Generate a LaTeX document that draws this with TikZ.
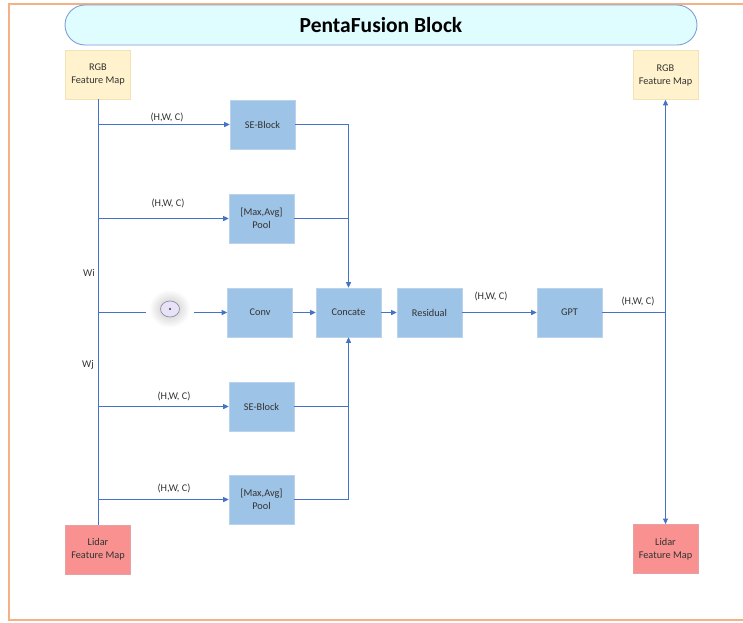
\documentclass[tikz,border=0pt]{standalone}
\usepackage{fontspec}
\setmainfont{Carlito}
\usetikzlibrary{arrows.meta,shapes.geometric}

\definecolor{boxblue}{HTML}{9DC3E6}
\definecolor{boxblueedge}{HTML}{B9D3EC}
\definecolor{linkblue}{HTML}{4472C4}
\definecolor{rgbfill}{HTML}{FFF2CC}
\definecolor{rgbedge}{HTML}{F1E2B8}
\definecolor{lidarfill}{HTML}{F8918F}
\definecolor{lidaredge}{HTML}{E3A3A6}
\definecolor{titlefill}{HTML}{DFFCFE}
\definecolor{titleedge}{HTML}{7F9ED6}
\definecolor{framecol}{HTML}{F4B183}
\definecolor{opfill}{HTML}{E8E2F8}
\definecolor{opedge}{HTML}{8E8E9E}

\tikzset{
  x=1pt, y=-1pt,
  every node/.style={font=\fontsize{10.3}{13}\selectfont, text=black!80},
  block/.style={rectangle, minimum width=65pt, minimum height=49pt, inner sep=0pt,
                align=center},
  bluebox/.style={block, fill=boxblue, draw=boxblueedge, line width=0.6pt},
  rgbbox/.style={block, fill=rgbfill, draw=rgbedge, line width=0.6pt},
  lidarbox/.style={block, fill=lidarfill, draw=lidaredge, line width=0.8pt},
  conn/.style={draw=linkblue, line width=0.9pt},
  arr/.style={conn, -{Triangle[length=5.5pt,width=5pt]}},
  dimlabel/.style={inner sep=0pt},
}

\begin{document}
\begin{tikzpicture}
\useasboundingbox (0,0) rectangle (743,622);
\fill[white] (0,0) rectangle (743,622);

% outer frame, open towards the right edge
\draw[framecol, line width=2.4pt] (760,4) -- (9,4) -- (9,620) -- (760,620);

% title banner
\node[draw=titleedge, fill=titlefill, line width=0.9pt, rounded corners=20pt,
      minimum width=632pt, minimum height=40pt, inner sep=0pt,
      font=\fontsize{21.5}{24}\bfseries\selectfont, text=black] (title) at (381,25)
      {PentaFusion Block};

% input / output feature maps
\node[rgbbox]   (rgbL)   at (98,74.5)   {RGB\\Feature Map};
\node[lidarbox] (lidarL) at (98,549.5)  {Lidar\\Feature Map};
\node[rgbbox]   (rgbR)   at (665.5,75)  {RGB\\Feature Map};
\node[lidarbox] (lidarR) at (665.5,549) {Lidar\\Feature Map};

% processing blocks
\node[bluebox] (se1)      at (262.5,124.5) {SE-Block};
\node[bluebox] (pool1)    at (261.5,218.5) {[Max,Avg]\\Pool};
\node[bluebox] (conv)     at (260,312.5)   {Conv};
\node[bluebox] (concat)   at (348.5,312.5) {Concate};
\node[bluebox] (residual) at (429.5,312.5) {Residual};
\node[bluebox] (gpt)      at (569.5,312.5) {GPT};
\node[bluebox] (se2)      at (261.5,406.5) {SE-Block};
\node[bluebox] (pool2)    at (261.5,499.5) {[Max,Avg]\\Pool};

% element-wise product operator with its soft glow
\foreach \g in {1,...,8}
  \fill[black, opacity=0.014] (170,309) ellipse ({9.5+1.3*\g} and {8+1.3*\g});
\node[ellipse, draw=opedge, fill=opfill, line width=0.7pt,
      minimum width=19pt, minimum height=16pt, inner sep=0pt] (mult) at (170,309) {};
\fill[black!75] (mult.center) circle (1.1pt);

% shared input trunk on the left
\draw[conn] (rgbL.south) -- (lidarL.north);
\coordinate (b1) at (rgbL.south |- se1.west);
\coordinate (b2) at (rgbL.south |- pool1.west);
\coordinate (b3) at (rgbL.south |- conv.west);
\coordinate (b4) at (rgbL.south |- se2.west);
\coordinate (b5) at (rgbL.south |- pool2.west);

\draw[arr] (b1) -- (se1.west);
\draw[arr] (b2) -- (pool1.west);
\draw[arr] (b4) -- (se2.west);
\draw[arr] (b5) -- (pool2.west);

% weighted branch through the product operator
\coordinate (gapL) at (146,312.5);
\coordinate (gapR) at (194,312.5);
\draw[conn] (b3) -- (gapL);
\draw[arr] (gapR) -- (conv.west);

% branches gathered into the concatenation
\draw[arr] (se1.east) -| (concat.north);
\draw[conn] (pool1.east) -- (pool1.east -| concat.north);
\draw[arr] (pool2.east) -| (concat.south);
\draw[conn] (se2.east) -- (se2.east -| concat.south);

% main chain
\draw[arr] (conv.east) -- (concat.west);
\draw[arr] (concat.east) -- (residual.west);
\draw[arr] (residual.east) -- (gpt.west);

% output split
\coordinate (split) at (rgbR.south |- gpt.east);
\draw[conn] (gpt.east) -- (split);
\draw[arr] (split) -- (rgbR.south);
\draw[arr] (split) -- (lidarR.north);

% dimension labels and weights
\node[dimlabel] (d1) at (167,117) {(H,W, C)};
\node[dimlabel] (d2) at (168,203) {(H,W, C)};
\node[dimlabel] (d3) at (174,396) {(H,W, C)};
\node[dimlabel] (d4) at (174,488) {(H,W, C)};
\node[dimlabel] (d5) at (491,296) {(H,W, C)};
\node[dimlabel] (d6) at (638,301) {(H,W, C)};
\node[dimlabel] (wi) at (89,273) {Wi};
\node[dimlabel] (wj) at (88,365) {Wj};
\end{tikzpicture}
\end{document}
